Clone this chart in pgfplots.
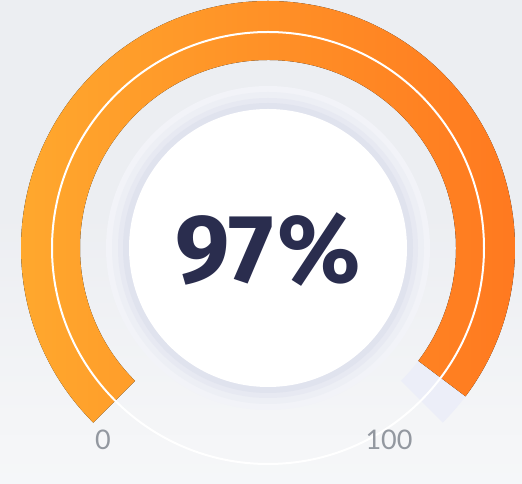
\documentclass[border=0pt]{standalone}
\usepackage{pgfplots}
\usepackage{pgfplotstable}
\pgfplotsset{compat=1.18}
\usepackage{fontspec}
\setmainfont{Fira Sans}
\newfontfamily\labelfont{Lato}
\definecolor{bgc}{HTML}{ECEEF2}
\definecolor{orangeL}{HTML}{FFAA2E}
\definecolor{orangeR}{HTML}{FF771F}
\definecolor{restc}{HTML}{ECEEF8}
\definecolor{navy}{HTML}{2A2D4E}
\definecolor{lbl}{HTML}{9398A0}
\definecolor{ringA}{HTML}{F2F3F8}
\definecolor{ringB}{HTML}{EDEFF5}
\definecolor{ringC}{HTML}{E7E9F2}
\definecolor{ringD}{HTML}{E0E3EE}
\pgfplotstableread{
value
97
}\gaugedata
\pgfplotstablegetelem{0}{value}\of\gaugedata
\edef\gval{\pgfplotsretval}
\begingroup
\pgfkeys{/pgf/fpu=true,/pgf/fpu/output format=fixed}
\pgfmathparse{225-2.7*\gval}
\xdef\gend{\pgfmathresult}
\endgroup
\begin{document}
\begin{tikzpicture}
\begin{axis}[
  x=1pt, y=1pt, xmin=0, xmax=522, ymin=0, ymax=484,
  hide axis, scale only axis, clip=true, disabledatascaling,
]
% background
\fill[bgc] (axis cs:0,0) rectangle (axis cs:522,484);
\shade[top color=bgc, bottom color=white!60!bgc, opacity=0.9] (axis cs:0,0) rectangle (axis cs:522,300);
% remaining part of gauge
\fill[restc] (axis cs:{268+247*cos(\gend)},{236+247*sin(\gend)})
  arc[start angle=\gend, end angle=-45, radius=247pt]
  -- (axis cs:{268+188*cos(-45)},{236+188*sin(-45)})
  arc[start angle=-45, end angle=\gend, radius=188pt] -- cycle;
% value part of gauge
\fill[left color=orangeL, right color=orangeR]
  (axis cs:{268+247*cos(225)},{236+247*sin(225)})
  arc[start angle=225, end angle=\gend, radius=247pt]
  -- (axis cs:{268+188*cos(\gend)},{236+188*sin(\gend)})
  arc[start angle=\gend, end angle=225, radius=188pt] -- cycle;
% white circle line
\draw[white, line width=2pt] (axis cs:268,236) circle[radius=216pt];
% center ring
\fill[ringA] (axis cs:268,236) circle[radius=162pt];
\fill[ringB] (axis cs:268,236) circle[radius=156pt];
\fill[ringC] (axis cs:268,236) circle[radius=150pt];
\fill[ringD] (axis cs:268,236) circle[radius=145pt];
\fill[white] (axis cs:268,236) circle[radius=139pt];
% value text
\node[text=navy, font=\fontsize{97}{97}\selectfont\bfseries] at (axis cs:268,234) {97\kern4pt\%};
% labels
\node[text=lbl, font=\labelfont\fontsize{27}{27}\selectfont] at (axis cs:103,44) {0};
\node[text=lbl, font=\labelfont\fontsize{27}{27}\selectfont] at (axis cs:389,44) {100};
\end{axis}
\end{tikzpicture}
\end{document}
